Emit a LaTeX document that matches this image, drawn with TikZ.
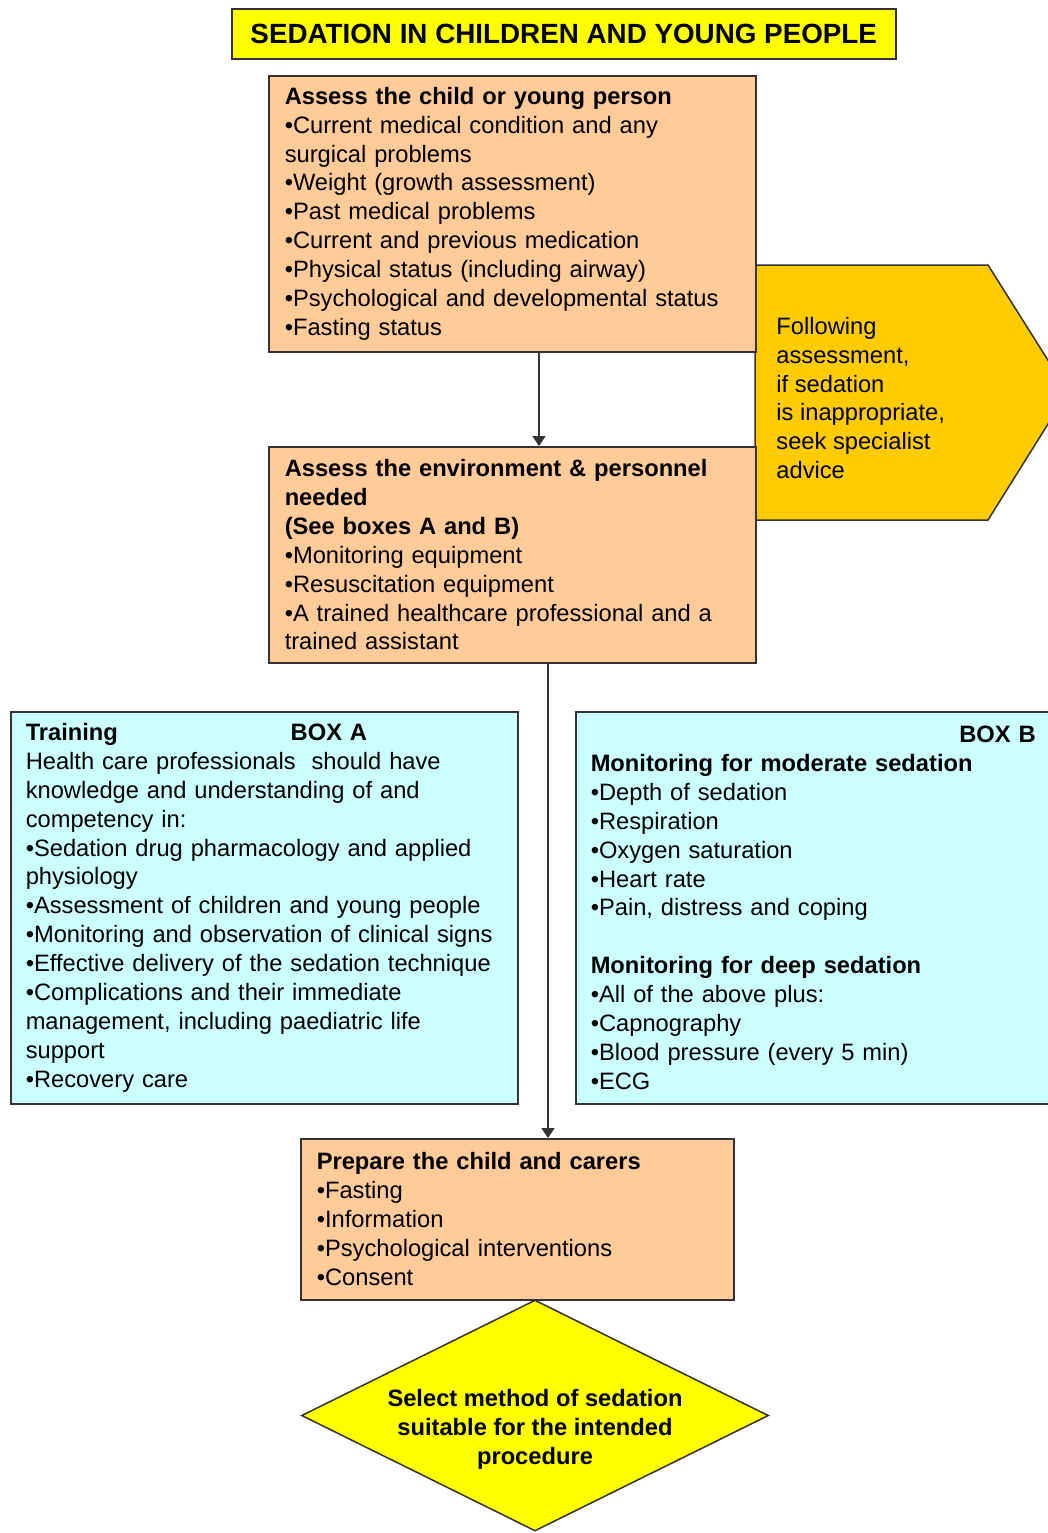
\documentclass[tikz,border=0pt]{standalone}
\usepackage{fontspec}
\setmainfont{Liberation Sans}
\usetikzlibrary{arrows.meta, shapes.geometric, positioning}
\definecolor{peach}{HTML}{FFCC99}
\definecolor{palecyan}{HTML}{CCFFFF}
\definecolor{titleyellow}{HTML}{FFFF00}
\definecolor{advicegold}{HTML}{FFCC00}

\begin{document}
\begin{tikzpicture}[
    x=0.5pt, y=-0.5pt,
    box/.style={
      draw=black!80, line width=0.75pt, anchor=north west, align=left,
      font=\fontsize{11.85pt}{14.45pt}\selectfont, inner ysep=0pt
    },
    peachbox/.style={box, fill=peach},
    cyanbox/.style={box, fill=palecyan},
    arr/.style={-{Triangle[length=5pt, width=6.5pt]}, line width=0.75pt, draw=black!80},
  ]
    \useasboundingbox (0,0) rectangle (1048,1533);
    \clip (0,0) rectangle (1048,1533);

    % --- Title ---
    \node[box, fill=titleyellow, inner sep=0pt, align=center,
          minimum width=332pt, minimum height=25pt,
          font=\fontsize{13.9pt}{17pt}\selectfont\bfseries] (title) at (231,8)
          {SEDATION IN CHILDREN AND YOUNG PEOPLE};

    % --- Specialist advice arrow ---
    \path[draw=black!80, line width=0.75pt, fill=advicegold]
      (755,265) -- (988,265) -- (1068,392) -- (988,520) -- (755,520) -- cycle;
    \node[anchor=west, align=left, inner sep=0pt,
          font=\fontsize{11.85pt}{14.45pt}\selectfont] (advice) at (776,398)
          {Following\\assessment,\\if sedation\\is inappropriate,\\seek specialist\\advice};

    % --- Assessment ---
    \node[peachbox, text width=227.5pt, inner xsep=8pt, minimum height=138pt] (child) at (268,75)
      {\textbf{Assess the child or young person}\\
       •Current medical condition and any\\
       surgical problems\\
       •Weight (growth assessment)\\
       •Past medical problems\\
       •Current and previous medication\\
       •Physical status (including airway)\\
       •Psychological and developmental status\\
       •Fasting status};
    \node[peachbox, text width=227.5pt, inner xsep=8pt, minimum height=108pt] (env) at (268,446)
      {\textbf{Assess the environment \& personnel}\\
       \textbf{needed}\\
       \textbf{(See boxes A and B)}\\
       •Monitoring equipment\\
       •Resuscitation equipment\\
       •A trained healthcare professional and a\\
       trained assistant};

    % --- Boxes A and B ---
    \node[cyanbox, text width=238.5pt, inner xsep=7.5pt, minimum height=196pt] (boxa) at (10,711)
      {\makebox[132.5pt][l]{\textbf{Training}}\textbf{BOX A}\\
       Health care professionals\ \ should have\\
       knowledge and understanding of and\\
       competency in:\\
       •Sedation drug pharmacology and applied\\
       physiology\\
       •Assessment of children and young people\\
       •Monitoring and observation of clinical signs\\
       •Effective delivery of the sedation technique\\
       •Complications and their immediate\\
       management, including paediatric life\\
       support\\
       •Recovery care};
    \node[cyanbox, text width=222.5pt, inner xsep=7.5pt, minimum height=196pt] (boxb) at (575,711)
      {\makebox[222.5pt][r]{\textbf{BOX B}}\\
       \textbf{Monitoring for moderate sedation}\\
       •Depth of sedation\\
       •Respiration\\
       •Oxygen saturation\\
       •Heart rate\\
       •Pain, distress and coping\\[14.45pt]
       \textbf{Monitoring for deep sedation}\\
       •All of the above plus:\\
       •Capnography\\
       •Blood pressure (every 5 min)\\
       •ECG};

    % --- Preparation and method ---
    \node[diamond, draw=black!80, line width=0.75pt, fill=titleyellow, inner sep=0pt,
          minimum width=233.5pt, minimum height=115.5pt] (method) at (535,1415.5) {};
    \node[align=center, font=\fontsize{11.85pt}{14.45pt}\selectfont\bfseries] (methodtext) at (535,1429)
      {Select method of sedation\\suitable for the intended\\procedure};
    \node[peachbox, text width=200.5pt, inner xsep=8pt, minimum height=80.5pt] (prep) at (300,1138)
      {\textbf{Prepare the child and carers}\\
       •Fasting\\
       •Information\\
       •Psychological interventions\\
       •Consent};

    % --- Arrows ---
    \coordinate (cola) at (539,0);
    \coordinate (colb) at (548,0);
    \draw[arr] (child.south -| cola) -- (env.north -| cola);
    \draw[arr] (env.south -| colb)   -- (prep.north -| colb);
\end{tikzpicture}
\end{document}
